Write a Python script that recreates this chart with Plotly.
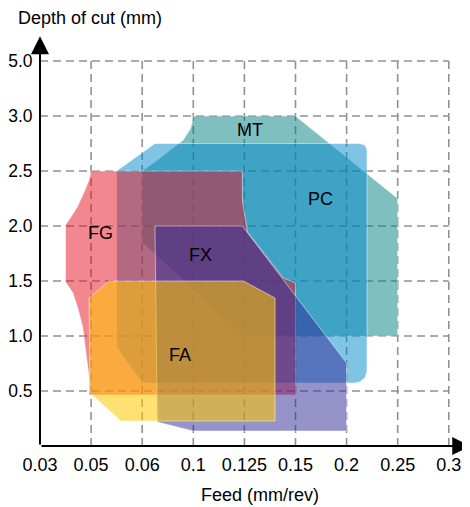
"""Turning-insert application map: chip-breaker regions by feed and depth of cut."""
import numpy as np
import plotly.graph_objects as go

# axis ticks (non-uniform scales, evenly spaced on the page)
feed_ticks = [0.03, 0.05, 0.06, 0.1, 0.125, 0.15, 0.2, 0.25, 0.3]
feed_labels = ["0.03", "0.05", "0.06", "0.1", "0.125", "0.15", "0.2", "0.25", "0.3"]
depth_ticks = [0.0, 0.5, 1.0, 1.5, 2.0, 2.5, 3.0, 5.0]
depth_labels = ["", "0.5", "1.0", "1.5", "2.0", "2.5", "3.0", "5.0"]

# region outlines (feed mm/rev, depth mm)
mt_feed = [0.1, 0.15, 0.25, 0.25, 0.125, 0.06, 0.06, 0.065, 0.072, 0.082, 0.092, 0.098]
mt_depth = [3.0, 3.0, 2.25, 1.0, 1.0, 1.85, 2.5, 2.54, 2.6, 2.69, 2.78, 2.89]

pc_feed = [0.07, 0.213, 0.218, 0.22, 0.22, 0.218, 0.213, 0.208, 0.06, 0.055, 0.055]
pc_depth = [2.75, 2.75, 2.735, 2.69, 0.68, 0.62, 0.582, 0.573, 0.573, 0.9, 2.5]

fg_feed = [0.05, 0.124, 0.124, 0.125, 0.1255, 0.1265, 0.1441, 0.15, 0.15, 0.0492,
           0.0492, 0.0483, 0.0475, 0.0467, 0.045, 0.0429, 0.04, 0.04,
           0.0421, 0.0446, 0.0471, 0.0492]
fg_depth = [2.5, 2.5, 2.236, 2.118, 2.027, 1.945, 1.527, 1.482, 0.464, 0.464,
            0.627, 0.782, 0.936, 1.082, 1.236, 1.391, 1.491, 2.009,
            2.082, 2.173, 2.3, 2.418]

fx_feed = [0.07, 0.124, 0.2, 0.2, 0.1, 0.0718]
fx_depth = [2.0, 2.0, 0.755, 0.136, 0.136, 0.218]

fa_feed = [0.0535, 0.1245, 0.14, 0.14, 0.0558, 0.0496, 0.0492]
fa_depth = [1.5, 1.5, 1.345, 0.227, 0.227, 0.482, 1.345]

region_names = ["MT", "PC", "FG", "FX", "FA"]
label_feed = [0.1275, 0.174, 0.0519, 0.1033, 0.0898]
label_depth = [2.873, 2.245, 1.936, 1.736, 0.827]

FONT = "Liberation Sans, Arial, sans-serif"
GRID = "rgb(145,145,145)"


def fx(v):
    return np.interp(v, feed_ticks, np.arange(len(feed_ticks)))


def dy(v):
    return np.interp(v, depth_ticks, np.arange(len(depth_ticks)))


nx = len(feed_ticks) - 1
ny = len(depth_ticks) - 1

fig = go.Figure()

# dashed grid, drawn under the regions
for i in range(1, nx + 1):
    fig.add_trace(go.Scatter(x=[i, i], y=[0, ny], mode="lines", hoverinfo="skip",
                             line=dict(color=GRID, width=1.6, dash="8px,5px")))
for j in range(1, ny + 1):
    fig.add_trace(go.Scatter(x=[0, nx], y=[j, j], mode="lines", hoverinfo="skip",
                             line=dict(color=GRID, width=1.6, dash="8px,5px")))

regions = [
    (mt_feed, mt_depth, "rgba(0,128,128,0.5)"),
    (pc_feed, pc_depth, "rgba(0,136,204,0.5)"),
    (fg_feed, fg_depth, "rgba(232,16,32,0.5)"),
    (fx_feed, fx_depth, "rgba(46,40,150,0.5)"),
    (fa_feed, fa_depth, "rgba(255,200,0,0.55)"),
]
for (f, d, col), name in zip(regions, region_names):
    xs = list(fx(f)) + [fx(f[0])]
    ys = list(dy(d)) + [dy(d[0])]
    fig.add_trace(go.Scatter(x=xs, y=ys, mode="lines", fill="toself", name=name,
                             fillcolor=col, hoverinfo="name",
                             line=dict(color="rgba(255,255,255,0.5)", width=1)))

for name, f, d in zip(region_names, label_feed, label_depth):
    fig.add_annotation(x=float(fx(f)), y=float(dy(d)), text=name, showarrow=False,
                       font=dict(size=18, color="black", family=FONT))

x_end = 8.42
y_end = 7.45

# axes with arrow heads
fig.add_annotation(x=x_end, y=0, ax=0, ay=0, xref="x", yref="y", axref="x", ayref="y",
                   text="", showarrow=True, arrowhead=2, arrowsize=1.8,
                   arrowwidth=2, arrowcolor="black")
fig.add_annotation(x=0, y=y_end, ax=0, ay=0, xref="x", yref="y", axref="x", ayref="y",
                   text="", showarrow=True, arrowhead=2, arrowsize=1.8,
                   arrowwidth=2, arrowcolor="black")

# axis titles placed in paper space (plot area: 428 x 408 px)
fig.add_annotation(x=(260 - 40) / 428, y=-(495 - 446) / 408, xref="paper", yref="paper",
                   xanchor="center", yanchor="middle",
                   text="Feed (mm/rev)", showarrow=False,
                   font=dict(size=18, color="black", family=FONT))
fig.add_annotation(x=(90 - 40) / 428, y=(446 - 18) / 408, xref="paper", yref="paper",
                   xanchor="center", yanchor="middle",
                   text="Depth of cut (mm)", showarrow=False,
                   font=dict(size=18, color="black", family=FONT))

# the page body adds an 8px offset, so margins are shifted to compensate
fig.update_layout(
    width=470, height=507,
    margin=dict(l=32, r=10, t=30, b=69),
    paper_bgcolor="white", plot_bgcolor="white",
    showlegend=False,
    font=dict(family=FONT, size=18, color="black"),
)
fig.update_xaxes(range=[0, 8.376], showgrid=False, zeroline=False, showline=False,
                 automargin=False,
                 tickvals=list(range(nx + 1)), ticktext=feed_labels,
                 ticks="outside", ticklen=2, tickcolor="rgba(0,0,0,0)")
fig.update_yaxes(range=[0, 7.418], showgrid=False, zeroline=False, showline=False,
                 automargin=False,
                 tickvals=list(range(ny + 1)), ticktext=depth_labels,
                 tickfont=dict(size=17.5),
                 ticks="outside", ticklen=3, tickcolor="rgba(0,0,0,0)")

fig.write_html("out.html")
